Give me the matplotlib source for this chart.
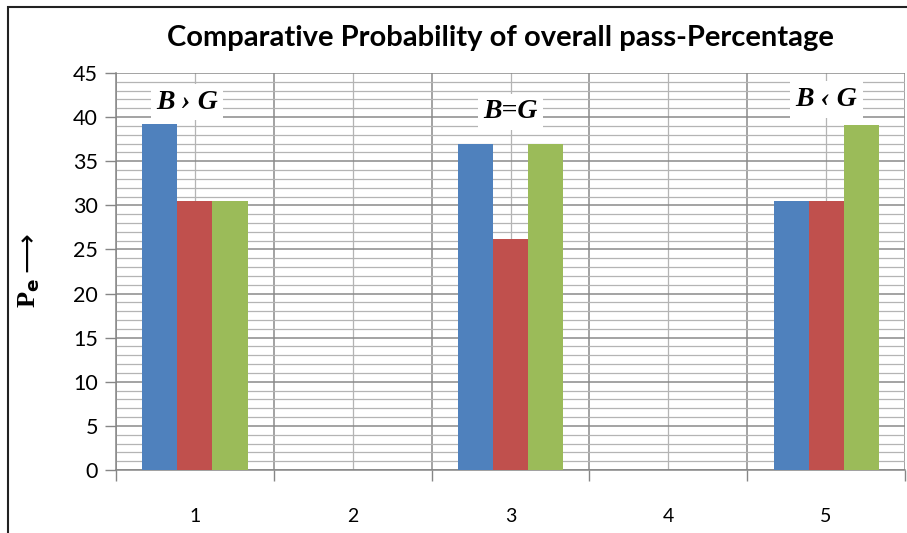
import matplotlib
matplotlib.use("Agg")
import matplotlib.pyplot as plt
import numpy as np
from matplotlib.patches import Rectangle

categories = [1, 2, 3, 4, 5]
series_blue = [39.2, 0, 36.9, 0, 30.5]
series_red = [30.5, 0, 26.2, 0, 30.5]
series_green = [30.5, 0, 36.9, 0, 39.1]
colors = ["#4F81BD", "#C0504D", "#9BBB59"]
title = "Comparative Probability of overall pass-Percentage"
annotations = [("B › G", 0.95, 41.7), ("B=G", 3, 40.6), ("B ‹ G", 5, 42.0)]
yticks = [0, 5, 10, 15, 20, 25, 30, 35, 40, 45]

W, H = 907, 533
fig = plt.figure(figsize=(W / 100, H / 100), dpi=100)
ax = fig.add_axes([116 / W, (H - 470) / H, (905 - 116) / W, (470 - 73) / H])

x = np.array(categories, dtype=float)
bw = 2 / 9.0
for i, (vals, c) in enumerate(zip([series_blue, series_red, series_green], colors)):
    ax.bar(x + (i - 1) * bw, vals, width=bw, color=c, zorder=3, linewidth=0)

ax.set_xlim(0.5, 5.5)
ax.set_ylim(0, 45)

bounds = np.arange(0.5, 6.0, 1.0)
ax.set_xticks(bounds)
ax.set_xticklabels([""] * len(bounds))
ax.set_xticks(x, minor=True)
ax.set_xticklabels([str(c) for c in categories], minor=True, fontsize=14, family="Lato")
ax.tick_params(axis="x", which="major", direction="out", length=8, color="#868686", width=1)
ax.tick_params(axis="x", which="minor", length=0, pad=27)

ax.set_yticks(yticks)
ax.set_yticklabels([str(v) for v in yticks], fontsize=15.5, family="Lato")
ax.set_yticks(np.arange(0, 46, 1), minor=True)
ax.tick_params(axis="y", which="major", direction="out", length=8, color="#868686", width=1, pad=5)
ax.tick_params(axis="y", which="minor", length=0)

ax.grid(which="major", axis="both", color="#8a8a8a", linewidth=1.1, zorder=0)
ax.grid(which="minor", axis="both", color="#b4b4b4", linewidth=0.9, zorder=0)
ax.set_axisbelow(True)

for s in ["top", "right"]:
    ax.spines[s].set_visible(False)
for s in ["left", "bottom"]:
    ax.spines[s].set_color("#868686")
    ax.spines[s].set_linewidth(1.1)

for txt, xc, yc in annotations:
    ax.text(xc, yc, txt, ha="center", va="center", fontsize=20, fontweight="bold",
            fontstyle="italic", family="Liberation Serif", zorder=5,
            bbox=dict(boxstyle="square,pad=0.2", facecolor="white", edgecolor="none"))

fig.text(500 / W, 1 - 38 / H, title, ha="center", va="center", fontsize=21,
         fontweight="bold", family="Lato")

fig.text(29 / W, 1 - 293 / H, r"P$_\mathbf{e}$", rotation=90, ha="center", va="center",
         fontsize=19, fontweight="bold", family="Liberation Serif")
fig.text(27 / W, 1 - 252 / H, "⟶", rotation=90, ha="center", va="center",
         fontsize=20, family="DejaVu Sans")

fig.patches.append(Rectangle((8 / W, -0.05), 1.2, 1 - 7 / H + 0.05, transform=fig.transFigure,
                             facecolor="none", edgecolor="#222222", linewidth=1.5, zorder=10))

fig.savefig("out.png", dpi=100)
